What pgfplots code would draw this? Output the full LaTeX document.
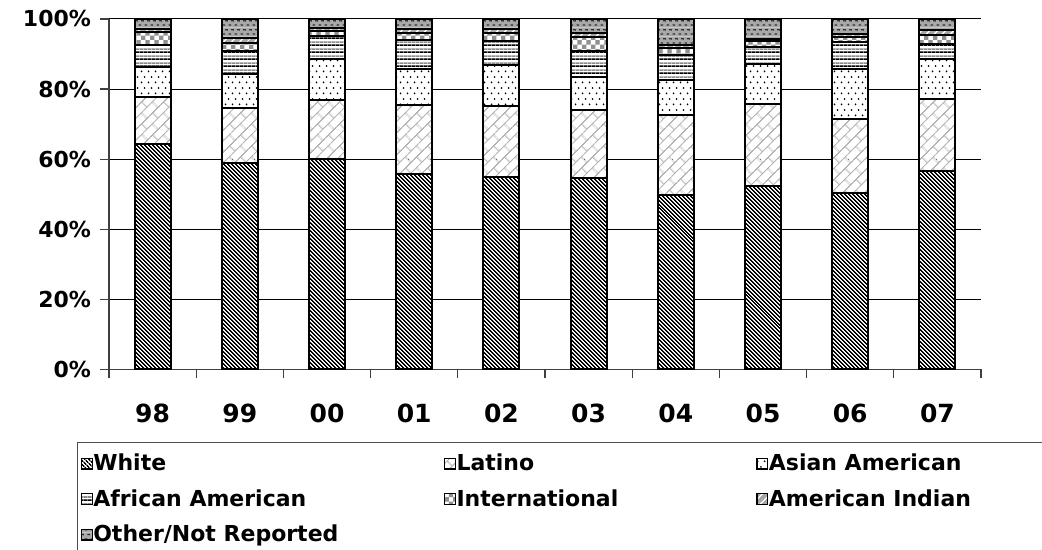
\documentclass[border=0pt]{standalone}
\usepackage{pgfplots}
\pgfplotsset{compat=1.18}
\usepackage{pgfplotstable}
\usetikzlibrary{patterns,patterns.meta}
\usepackage{fontspec}
\setmainfont{DejaVu Sans}

\definecolor{brickgray}{HTML}{B4B4B4}
\definecolor{stripegray}{HTML}{8C8C8C}
\definecolor{checkgray}{HTML}{909090}
\definecolor{indgray}{HTML}{A6A6A6}
\definecolor{othgray}{HTML}{A8A8A8}
\definecolor{othdark}{HTML}{303030}

\pgfdeclarepattern{
  name=pWhite, type=colored,
  bottom left={\pgfpoint{0pt}{0pt}}, top right={\pgfpoint{1.7pt}{1.7pt}},
  tile size={\pgfpoint{1.7pt}{1.7pt}},
  tile transformation={\pgftransformrotate{-45}},
  code={
    \pgfsetfillcolor{white}\pgfpathrectangle{\pgfpointorigin}{\pgfpoint{1.7pt}{1.7pt}}\pgfusepath{fill}
    \pgfsetfillcolor{black}\pgfpathrectangle{\pgfpointorigin}{\pgfpoint{1.7pt}{0.9pt}}\pgfusepath{fill}
  }
}
\pgfdeclarepattern{
  name=pLatino, type=colored,
  bottom left={\pgfpoint{0pt}{0pt}}, top right={\pgfpoint{8pt}{8pt}},
  tile size={\pgfpoint{8pt}{8pt}},
  tile transformation={\pgftransformrotate{45}},
  code={
    \pgfsetfillcolor{white}\pgfpathrectangle{\pgfpointorigin}{\pgfpoint{8pt}{8pt}}\pgfusepath{fill}
    \pgfsetstrokecolor{brickgray}\pgfsetlinewidth{0.6pt}
    \pgfpathmoveto{\pgfpoint{0pt}{2pt}}\pgfpathlineto{\pgfpoint{8pt}{2pt}}
    \pgfpathmoveto{\pgfpoint{0pt}{6pt}}\pgfpathlineto{\pgfpoint{8pt}{6pt}}
    \pgfpathmoveto{\pgfpoint{2pt}{2pt}}\pgfpathlineto{\pgfpoint{2pt}{6pt}}
    \pgfpathmoveto{\pgfpoint{6pt}{6pt}}\pgfpathlineto{\pgfpoint{6pt}{8pt}}
    \pgfpathmoveto{\pgfpoint{6pt}{0pt}}\pgfpathlineto{\pgfpoint{6pt}{2pt}}
    \pgfusepath{stroke}
  }
}
\pgfdeclarepattern{
  name=pAsian, type=colored,
  bottom left={\pgfpoint{0pt}{0pt}}, top right={\pgfpoint{3.5pt}{5.4pt}},
  tile size={\pgfpoint{3.5pt}{5.4pt}},
  code={
    \pgfsetfillcolor{white}\pgfpathrectangle{\pgfpointorigin}{\pgfpoint{3.5pt}{5.4pt}}\pgfusepath{fill}
    \pgfsetfillcolor{black}
    \pgfpathcircle{\pgfpoint{0.875pt}{1.35pt}}{0.5pt}
    \pgfpathcircle{\pgfpoint{2.625pt}{4.05pt}}{0.5pt}
    \pgfusepath{fill}
  }
}
\pgfdeclarepattern{
  name=pAfAm, type=colored,
  bottom left={\pgfpoint{0pt}{0pt}}, top right={\pgfpoint{2pt}{3.5pt}},
  tile size={\pgfpoint{2pt}{3.5pt}},
  code={
    \pgfsetfillcolor{white}\pgfpathrectangle{\pgfpointorigin}{\pgfpoint{2pt}{3.5pt}}\pgfusepath{fill}
    \pgfsetfillcolor{black}\pgfpathrectangle{\pgfpointorigin}{\pgfpoint{2pt}{0.95pt}}\pgfusepath{fill}
    \pgfsetfillcolor{stripegray}\pgfpathrectangle{\pgfpoint{0pt}{1.75pt}}{\pgfpoint{2pt}{0.85pt}}\pgfusepath{fill}
  }
}
\pgfdeclarepattern{
  name=pIntl, type=colored,
  bottom left={\pgfpoint{0pt}{0pt}}, top right={\pgfpoint{4.4pt}{4.4pt}},
  tile size={\pgfpoint{4.4pt}{4.4pt}},
  code={
    \pgfsetfillcolor{white}\pgfpathrectangle{\pgfpointorigin}{\pgfpoint{4.4pt}{4.4pt}}\pgfusepath{fill}
    \pgfsetfillcolor{checkgray}
    \pgfpathrectangle{\pgfpointorigin}{\pgfpoint{2.2pt}{2.2pt}}
    \pgfpathrectangle{\pgfpoint{2.2pt}{2.2pt}}{\pgfpoint{2.2pt}{2.2pt}}
    \pgfusepath{fill}
  }
}
\pgfdeclarepattern{
  name=pAmInd, type=colored,
  bottom left={\pgfpoint{0pt}{0pt}}, top right={\pgfpoint{3pt}{3pt}},
  tile size={\pgfpoint{3pt}{3pt}},
  tile transformation={\pgftransformrotate{45}},
  code={
    \pgfsetfillcolor{indgray}\pgfpathrectangle{\pgfpointorigin}{\pgfpoint{3pt}{3pt}}\pgfusepath{fill}
    \pgfsetfillcolor{white}\pgfpathrectangle{\pgfpointorigin}{\pgfpoint{3pt}{0.5pt}}\pgfusepath{fill}
  }
}
\pgfdeclarepattern{
  name=pOther, type=colored,
  bottom left={\pgfpoint{0pt}{0pt}}, top right={\pgfpoint{3pt}{4.6pt}},
  tile size={\pgfpoint{3pt}{4.6pt}},
  code={
    \pgfsetfillcolor{othgray}\pgfpathrectangle{\pgfpointorigin}{\pgfpoint{3pt}{4.6pt}}\pgfusepath{fill}
    \pgfsetfillcolor{othdark}
    \pgfpathrectangle{\pgfpoint{0.3pt}{0.8pt}}{\pgfpoint{1.5pt}{0.6pt}}
    \pgfpathrectangle{\pgfpoint{1.8pt}{3.1pt}}{\pgfpoint{1.5pt}{0.6pt}}
    \pgfusepath{fill}
  }
}

\pgfplotstableread{
x W L A AA I AI O
0 64.4 13.3 8.6 6.2 3.8 0.9 2.8
1 59.0 15.6 9.8 6.4 2.4 1.4 5.4
2 60.1 16.7 11.9 6.4 1.4 0.9 2.6
3 55.8 19.7 10.3 8.1 2.2 1.1 2.8
4 54.9 20.3 11.6 6.8 2.5 1.1 2.8
5 54.5 19.4 9.5 7.4 4.1 1.2 3.9
6 49.8 22.7 10.0 7.1 2.1 0.8 7.5
7 52.3 23.5 11.4 4.8 1.6 0.8 5.6
8 50.4 21.0 14.2 7.8 1.5 0.9 4.2
9 56.5 20.8 11.2 4.5 2.5 1.3 3.2
}\datatable

\newcommand{\lt}[2]{\makebox[#1][l]{\rule[-2.5pt]{0pt}{11pt}\hspace{0.3pt}#2}}

\begin{document}
\begin{tikzpicture}
\pgfplotsset{
  myleg/.style={legend image code/.code={
    \draw[##1, line width=0.6pt] (0pt,-2.7pt) rectangle (5.4pt,2.7pt);}},
}
\begin{axis}[
  at={(54.5pt,90.35pt)}, anchor=south west,
  width=436pt, height=175.15pt, scale only axis,
  ybar stacked, bar width=18pt,
  every axis plot post/.append style={draw=black, line width=1pt, myleg},
  xmin=-0.5, xmax=9.5, ymin=0, ymax=100,
  xtick={0,...,9},
  xticklabels={98,99,00,01,02,03,04,05,06,07},
  minor xtick={-0.5,0.5,...,9.5},
  ytick={0,20,...,100},
  yticklabels={0\%,20\%,40\%,60\%,80\%,100\%},
  axis x line*=bottom, axis y line*=left,
  tick align=outside,
  major tick length=4.5pt, minor tick length=4.5pt,
  major x tick style={draw=none},
  tick style={black!75, line width=0.6pt},
  ymajorgrids, grid style={black, line width=0.5pt},
  axis line style={black!75, line width=0.7pt},
  yticklabel style={font=\bfseries\fontsize{11}{13}\selectfont, xshift=-1pt},
  xticklabel style={font=\bfseries\fontsize{12.5}{14}\selectfont, yshift=-9.3pt},
  legend columns=3,
  legend cell align=left,
  legend style={
    at={(-0.0367,-0.2075)}, anchor=north west,
    draw=black!70, line width=0.7pt,
    inner xsep=1.5pt, inner ysep=5.5pt,
    column sep=0pt, row sep=7.75pt,
    nodes={inner sep=0pt},
    font=\bfseries\fontsize{11}{13}\selectfont,
  },
]
\addplot[pattern=pWhite] table[x=x,y=W]{\datatable};
\addplot[pattern=pLatino] table[x=x,y=L]{\datatable};
\addplot[pattern=pAsian] table[x=x,y=A]{\datatable};
\addplot[pattern=pAfAm] table[x=x,y=AA]{\datatable};
\addplot[pattern=pIntl] table[x=x,y=I]{\datatable};
\addplot[pattern=pAmInd] table[x=x,y=AI]{\datatable};
\addplot[pattern=pOther] table[x=x,y=O]{\datatable};
\addlegendentry{\lt{175.6pt}{White}}
\addlegendentry{\lt{150.2pt}{Latino}}
\addlegendentry{\lt{150pt}{Asian American}}
\addlegendentry{\lt{175.6pt}{African American}}
\addlegendentry{\lt{150.2pt}{International}}
\addlegendentry{\lt{150pt}{American Indian}}
\addlegendentry{\lt{175.6pt}{Other/Not Reported}}
\end{axis}
\pgfresetboundingbox
\path[use as bounding box] (0,0) rectangle (521pt,275pt);
\end{tikzpicture}
\end{document}
